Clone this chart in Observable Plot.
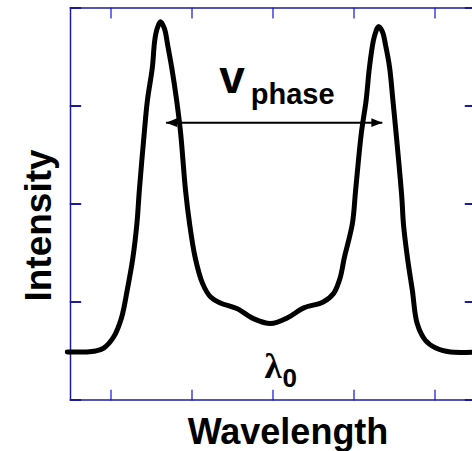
<!DOCTYPE html>
<html><head><meta charset="utf-8">
<script src="https://cdn.jsdelivr.net/npm/d3@7"></script>
<script src="https://cdn.jsdelivr.net/npm/@observablehq/plot@0.6"></script>
<style>html,body{margin:0;padding:0;background:#fff;overflow:hidden}</style>
</head><body><div id="chart"></div>
<script>
// Spectrum (arbitrary units)
const wavelength = [-0.04,0.19,0.31,0.41,0.53,0.63,0.70,0.77,0.82,0.85,
  0.91,0.95,1.01,1.04,1.07,1.11,1.16,1.20,1.25,1.31,
  1.36,1.42,1.47,1.54,1.63,1.73,1.85,2.06,2.26,2.47,
  2.68,2.88,3.12,3.25,3.33,3.38,3.48,3.52,3.59,3.65,
  3.69,3.74,3.77,3.80,3.85,3.89,3.94,3.98,4.02,4.09,
  4.11,4.16,4.22,4.28,4.38,4.51,4.69,5.00];
const intensity = [0.49,0.49,0.50,0.53,0.64,0.84,1.12,1.45,1.80,2.14,
  2.72,3.06,3.39,3.67,3.79,3.86,3.79,3.62,3.39,3.06,
  2.72,2.14,1.80,1.45,1.19,1.05,0.99,0.93,0.83,0.78,
  0.84,0.94,1.00,1.09,1.25,1.45,1.80,2.14,2.72,3.06,
  3.39,3.67,3.76,3.81,3.76,3.62,3.39,3.06,2.72,2.07,
  1.80,1.45,1.12,0.78,0.61,0.53,0.49,0.49];
const xTicks = [0.5, 1.5, 2.5, 3.5, 4.5];
const yTicks = [0, 1, 2, 3, 4];
const lambda0 = 2.5;
const phaseArrow = [1.18, 3.85];
const phaseArrowLevel = 2.83;
const xLabel = "Wavelength";
const yLabel = "Intensity";

const curve = wavelength.map((w, i) => ({w, v: intensity[i]}));
const arrowRow = [{x1: phaseArrow[0], x2: phaseArrow[1], y: phaseArrowLevel}];
const arrowMid = (phaseArrow[0] + phaseArrow[1]) / 2;

const headRight = {draw(ctx) { ctx.moveTo(0,0); ctx.lineTo(-11,-4.3); ctx.lineTo(-11,4.3); ctx.closePath(); }};
const headLeft = {draw(ctx) { ctx.moveTo(0,0); ctx.lineTo(11,-4.3); ctx.lineTo(11,4.3); ctx.closePath(); }};
const tickShape = {draw(ctx, l) { ctx.moveTo(0, 0); ctx.lineTo(0, -l); }};

const frameColor = "#1c1c98";
const xTickColor = "#1010dc";
const sans = "Liberation Sans, Arial, sans-serif";

const inwardTicks = (values, dim, frameAnchor, rotate, stroke, strokeWidth) =>
  Plot.vector(values, {[dim]: d => d, frameAnchor, rotate, length: 10, anchor: "start", shape: tickShape, stroke, strokeWidth});

const chart = Plot.plot({
  width: 472,
  height: 451,
  marginLeft: 70,
  marginTop: 7.5,
  marginBottom: 51.5,
  marginRight: -3,
  x: {domain: [0, 5], axis: null},
  y: {domain: [0, 4], axis: null},
  style: {fontFamily: sans, background: "white", overflow: "visible"},
  marks: [
    Plot.frame({stroke: frameColor, strokeWidth: 1.5}),
    inwardTicks(xTicks, "x", "bottom", 0, xTickColor, 1.2),
    inwardTicks(xTicks, "x", "top", 180, xTickColor, 1.2),
    inwardTicks(yTicks, "y", "left", 90, frameColor, 1.8),
    inwardTicks(yTicks, "y", "right", -90, frameColor, 1.8),
    Plot.line(curve, {x: "w", y: "v", curve: "catmull-rom", stroke: "black", strokeWidth: 5, strokeLinejoin: "round", clip: false}),
    Plot.link(arrowRow, {x1: "x1", x2: "x2", y1: "y", y2: "y", stroke: "black", strokeWidth: 2}),
    Plot.dot(arrowRow, {x: "x2", y: "y", symbol: headRight, fill: "black", stroke: null}),
    Plot.dot(arrowRow, {x: "x1", y: "y", symbol: headLeft, fill: "black", stroke: null}),
    Plot.text(["v"], {x: () => arrowMid, y: () => phaseArrowLevel, text: d => d, textAnchor: "start", lineAnchor: "bottom", dx: -55, dy: -29.7, fontSize: 46, fontWeight: "bold", fill: "black"}),
    Plot.text(["phase"], {x: () => arrowMid, y: () => phaseArrowLevel, text: d => d, textAnchor: "start", lineAnchor: "bottom", dx: -23.5, dy: -18.7, fontSize: 29, fontWeight: "bold", fill: "black"}),
    Plot.text(["λ"], {x: () => lambda0, frameAnchor: "bottom", text: d => d, textAnchor: "middle", lineAnchor: "bottom", dy: -22.5, fontSize: 35, fontWeight: "bold", fontFamily: "Liberation Serif, serif", fill: "black"}),
    Plot.text(["0"], {x: () => lambda0, frameAnchor: "bottom", text: d => d, textAnchor: "start", lineAnchor: "bottom", dx: 9.5, dy: -13.5, fontSize: 26, fontWeight: "bold", fill: "black"}),
    Plot.text([xLabel], {frameAnchor: "bottom", text: d => d, textAnchor: "middle", lineAnchor: "bottom", dx: 15, dy: 43.5, fontSize: 36, fontWeight: "bold", fill: "black"}),
    Plot.text([yLabel], {frameAnchor: "left", text: d => d, textAnchor: "middle", lineAnchor: "bottom", rotate: -90, dx: -20, dy: 21.5, fontSize: 37, fontWeight: "bold", fill: "black"})
  ]
});
document.getElementById("chart").appendChild(chart);
</script>
</body></html>
